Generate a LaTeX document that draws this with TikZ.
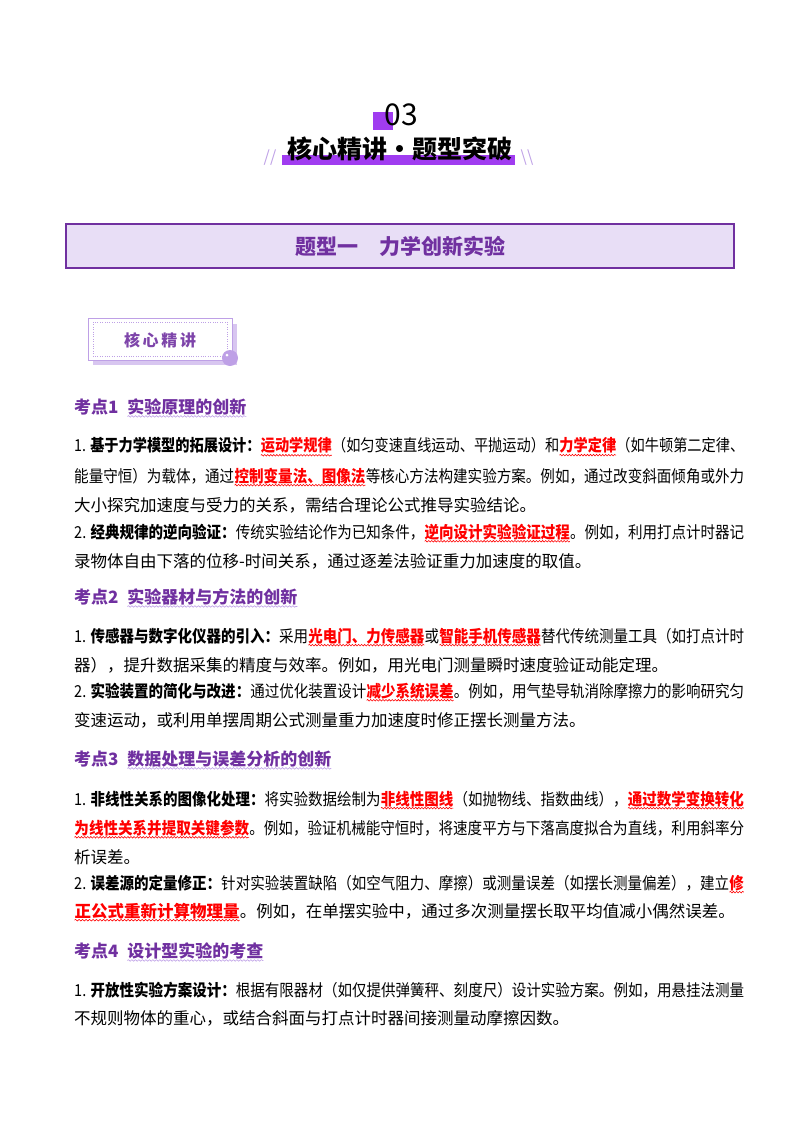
\documentclass[tikz,border=0pt]{standalone}
\usepackage{fontspec}
\usepackage{graphicx}
\usetikzlibrary{decorations.pathmorphing}
\setmainfont{Noto Sans CJK SC}
\definecolor{pur}{RGB}{112,48,160}
\definecolor{lpur}{RGB}{232,222,246}
\definecolor{mpur}{RGB}{190,160,230}
\definecolor{vpur}{RGB}{160,60,240}
\newcommand\wv[2]{\tikz[baseline=(t.base),x=1pt,y=1pt]{\node[inner sep=0pt,outer sep=0pt](t){#2}; \draw[#1,line width=0.6pt,decorate,decoration={snake,amplitude=0.8pt,segment length=3.5pt}] ([yshift=-1.5pt]t.south west)--([yshift=-1.5pt]t.south east);}}
\newcommand\rd[1]{\wv{red}{\textcolor{red}{\bfseries #1}}}
\newcommand\bk[1]{{\bfseries #1}}
\newcommand\kd[2]{\textcolor{pur}{\bfseries #1\hspace{0.5em}}\wv{mpur}{\textcolor{pur}{\bfseries #2}}}
\newcommand\full[1]{\resizebox{670pt}{\height}{#1}}
\tikzset{ln/.style={anchor=west,inner sep=0pt,font=\fontsize{16.5}{18}\selectfont},
hd/.style={anchor=west,inner sep=0pt,font=\fontsize{17}{18}\selectfont}}
\begin{document}
\begin{tikzpicture}[x=1pt,y=-1pt]
\useasboundingbox (0,0) rectangle (800,1132);
% header
\fill[vpur] (373,112) rectangle (393,130);
\node[font=\fontsize{30}{32}\selectfont,inner sep=0] (n03) at (401,115) {03};
\fill[vpur] (282,155) rectangle (515,165);
\node[font=\fontsize{25}{27}\selectfont\bfseries,inner sep=0] (ttl) at (400,149) {核心精讲·题型突破};
\node[text=mpur,font=\fontsize{16}{16}\selectfont\itshape] (sl1) at (270,158) {//};
\node[text=mpur,font=\fontsize{16}{16}\selectfont] (sl2) at (527,158) {\textbackslash\textbackslash};
% title box
\draw[pur,line width=2.5pt,fill=lpur] (66,224) rectangle (734,268);
\node[text=pur,font=\fontsize{21}{22}\selectfont\bfseries] (tb) at (400,246) {题型一\hspace{1em}力学创新实验};
% badge
\fill[mpur!60] (93,324) rectangle (237,365);
\draw[mpur,fill=white] (88,318) rectangle (232,360);
\draw[mpur,dotted] (93,322) rectangle (227,356);
\node[text=pur!90,font=\fontsize{16}{18}\selectfont\bfseries] (bd) at (160,340) {核\,心\,精\,讲};
\fill[mpur] (230,358) circle (8);
\fill[white] (227,355) circle (1.5);
% section 1
\node[hd] (k1) at (74,408) {\kd{考点1}{实验原理的创新}};
\node[ln] (a1) at (74,447) {\full{1. \bk{基于力学模型的拓展设计：}\rd{运动学规律}（如匀变速直线运动、平抛运动）和\rd{力学定律}（如牛顿第二定律、}};
\node[ln] (a2) at (74,477) {\full{能量守恒）为载体，通过\rd{控制变量法、图像法}等核心方法构建实验方案。例如，通过改变斜面倾角或外力}};
\node[ln] (a3) at (74,505) {大小探究加速度与受力的关系，需结合理论公式推导实验结论。};
\node[ln] (a4) at (74,533) {\full{2. \bk{经典规律的逆向验证：}传统实验结论作为已知条件，\rd{逆向设计实验验证过程}。例如，利用打点计时器记}};
\node[ln] (a5) at (74,561) {录物体自由下落的位移-时间关系，通过逐差法验证重力加速度的取值。};
% section 2
\node[hd] (k2) at (74,598) {\kd{考点2}{实验器材与方法的创新}};
\node[ln] (b1) at (74,637) {\full{1. \bk{传感器与数字化仪器的引入：}采用\rd{光电门、力传感器}或\rd{智能手机传感器}替代传统测量工具（如打点计时}};
\node[ln] (b2) at (74,665) {器），提升数据采集的精度与效率。例如，用光电门测量瞬时速度验证动能定理。};
\node[ln] (b3) at (74,692) {\full{2. \bk{实验装置的简化与改进：}通过优化装置设计\rd{减少系统误差}。例如，用气垫导轨消除摩擦力的影响研究匀}};
\node[ln] (b4) at (74,720) {变速运动，或利用单摆周期公式测量重力加速度时修正摆长测量方法。};
% section 3
\node[hd] (k3) at (74,760) {\kd{考点3}{数据处理与误差分析的创新}};
\node[ln] (c1) at (74,800) {\full{1. \bk{非线性关系的图像化处理：}将实验数据绘制为\rd{非线性图线}（如抛物线、指数曲线），\rd{通过数学变换转化}}};
\node[ln] (c2) at (74,829) {\full{\rd{为线性关系并提取关键参数}。例如，验证机械能守恒时，将速度平方与下落高度拟合为直线，利用斜率分}};
\node[ln] (c3) at (74,857) {析误差。};
\node[ln] (c4) at (74,884) {\full{2. \bk{误差源的定量修正：}针对实验装置缺陷（如空气阻力、摩擦）或测量误差（如摆长测量偏差），建立\rd{修}}};
\node[ln] (c5) at (74,912) {\rd{正公式重新计算物理量}。例如，在单摆实验中，通过多次测量摆长取平均值减小偶然误差。};
% section 4
\node[hd] (k4) at (74,952) {\kd{考点4}{设计型实验的考查}};
\node[ln] (d1) at (74,990) {\full{1. \bk{开放性实验方案设计：}根据有限器材（如仅提供弹簧秤、刻度尺）设计实验方案。例如，用悬挂法测量}};
\node[ln] (d2) at (74,1018) {不规则物体的重心，或结合斜面与打点计时器间接测量动摩擦因数。};
\end{tikzpicture}
\end{document}
